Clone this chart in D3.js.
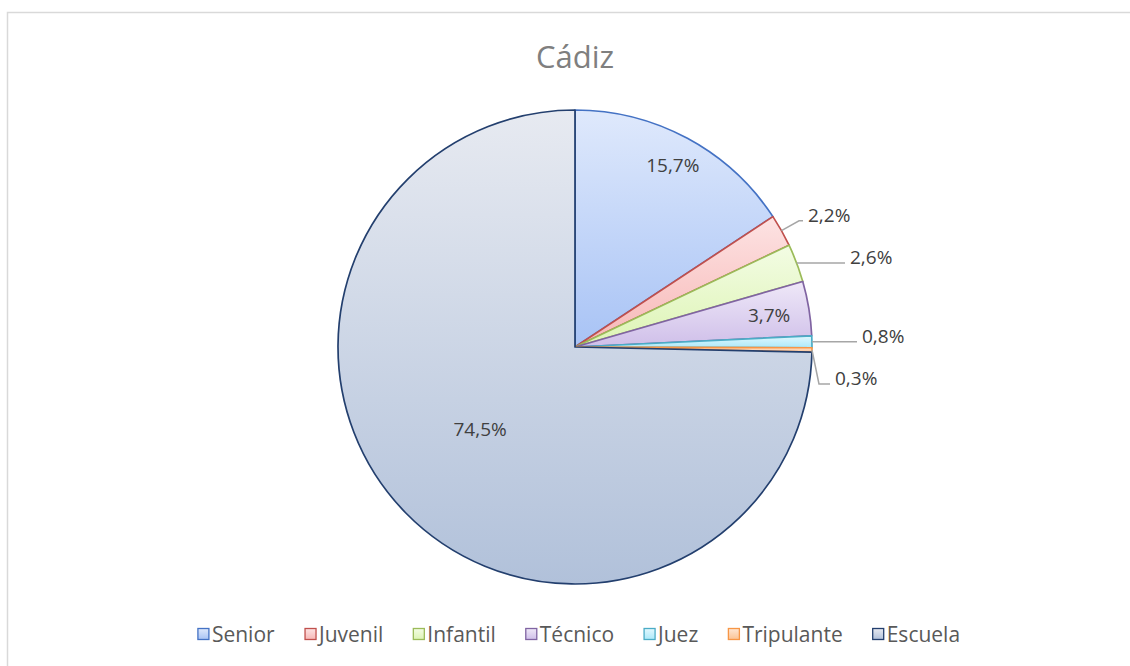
<!doctype html>
<html>
<head>
<meta charset="utf-8">
<title>Cádiz</title>
<script src="https://d3js.org/d3.v7.min.js"></script>
<style>
  body { margin: 0; background: #fff; font-family: "Open Sans", "Noto Sans", sans-serif; }
</style>
</head>
<body>
<div id="plot"></div>
<script>
// data
const categories = ["Senior", "Juvenil", "Infantil", "Técnico", "Juez", "Tripulante", "Escuela"];
const values = [15.7, 2.2, 2.6, 3.7, 0.8, 0.3, 74.5];
const labels = ["15,7%", "2,2%", "2,6%", "3,7%", "0,8%", "0,3%", "74,5%"];

// colours: stroke, gradient top, gradient bottom
const strokes = ["#4472c4", "#c0504d", "#9bbb59", "#8064a2", "#4bacc6", "#f79646", "#233f6e"];
const topFill = ["#dfe9fc", "#fde3e3", "#f3fce4", "#efe8f8", "#e2f8fe", "#fee6d3", "#e7eaf1"];
const botFill = ["#a8c3f5", "#f7b7b6", "#ddf4b4", "#cfbfe9", "#ace9f9", "#fbc394", "#b1c1da"];

const W = 1130, H = 666;
const cx = 575, cy = 347, R = 237;

const svg = d3.select("#plot").append("svg")
  .attr("width", W).attr("height", H);

// chart frame
svg.append("rect")
  .attr("x", 7.5).attr("y", 12.5)
  .attr("width", 1140).attr("height", 700)
  .attr("fill", "#fff")
  .attr("stroke", "#d9d9d9").attr("stroke-width", 1.5);

const defs = svg.append("defs");
categories.forEach((c, i) => {
  const g = defs.append("linearGradient")
    .attr("id", "grad" + i)
    .attr("x1", 0).attr("y1", 0).attr("x2", 0).attr("y2", 1);
  g.append("stop").attr("offset", "0%").attr("stop-color", topFill[i]);
  g.append("stop").attr("offset", "100%").attr("stop-color", botFill[i]);
});

// title
svg.append("text")
  .attr("x", cx).attr("y", 68)
  .attr("text-anchor", "middle")
  .style("font-size", "31px")
  .style("fill", "#7f7f7f")
  .text("Cádiz");

const pie = d3.pie().sort(null).value(d => d);
const arcs = pie(values);
const arc = d3.arc().innerRadius(0).outerRadius(R);

const g = svg.append("g").attr("transform", `translate(${cx},${cy})`);

g.selectAll("path.slice")
  .data(arcs)
  .enter()
  .append("path")
    .attr("class", "slice")
    .attr("d", arc)
    .attr("fill", (d, i) => "url(#grad" + i + ")")
    .attr("stroke", (d, i) => strokes[i])
    .attr("stroke-width", 1.7)
    .attr("stroke-linejoin", "round");

// label layout: inside labels use a radius factor, outside ones use an elbow
const layout = [
  {inside: 0.87},
  {elbow: 1.085, end: 803},
  {elbow: 1.0, end: 845},
  {inside: 0.83},
  {elbow: 1.0, end: 857},
  {drop: 34, end: 830},
  {inside: 0.53, shift: 0.06}
];

const pt = (a, r) => [Math.sin(a) * r, -Math.cos(a) * r];

arcs.forEach((d, i) => {
  const mid = (d.startAngle + d.endAngle) / 2;
  const L = layout[i];
  if (L.inside) {
    const [x, y] = pt(mid + (L.shift || 0), R * L.inside);
    g.append("text")
      .attr("x", x).attr("y", y)
      .attr("text-anchor", "middle")
      .attr("dominant-baseline", "central")
      .style("font-size", "19px")
      .style("fill", "#404040")
      .text(labels[i]);
    return;
  }
  const p0 = pt(mid, R);
  let p1, p2;
  if (L.drop) {
    p1 = [p0[0] + 7, p0[1] + L.drop];
  } else if (L.elbow > 1) {
    p1 = pt(mid, R * L.elbow);
  } else {
    p1 = p0;
  }
  p2 = [L.end - cx, p1[1]];
  g.append("polyline")
    .attr("points", [p0, p1, p2].map(p => p.join(",")).join(" "))
    .attr("fill", "none")
    .attr("stroke", "#a6a6a6")
    .attr("stroke-width", 1.5);
  g.append("text")
    .attr("x", p2[0] + 5).attr("y", p2[1] - 6)
    .attr("dominant-baseline", "central")
    .style("font-size", "19px")
    .style("fill", "#404040")
    .text(labels[i]);
});

// legend
const legend = svg.append("g").attr("transform", `translate(0,634)`);
let lx = 0;
const gap = 30;
const items = legend.selectAll("g.item")
  .data(categories)
  .enter()
  .append("g").attr("class", "item");
items.append("rect")
  .attr("y", -5.5).attr("width", 11).attr("height", 11)
  .attr("fill", (d, i) => "url(#grad" + i + ")")
  .attr("stroke", (d, i) => strokes[i])
  .attr("stroke-width", 1.3);
items.append("text")
  .attr("x", 14)
  .attr("dominant-baseline", "central")
  .style("font-size", "21px")
  .style("fill", "#595959")
  .text(d => d);
items.each(function() {
  const w = this.getBBox().width;
  d3.select(this).attr("transform", `translate(${lx},0)`);
  lx += w + gap;
});
const total = lx - gap;
legend.attr("transform", `translate(${cx - total / 2 + 4},634)`);
</script>
</body>
</html>
